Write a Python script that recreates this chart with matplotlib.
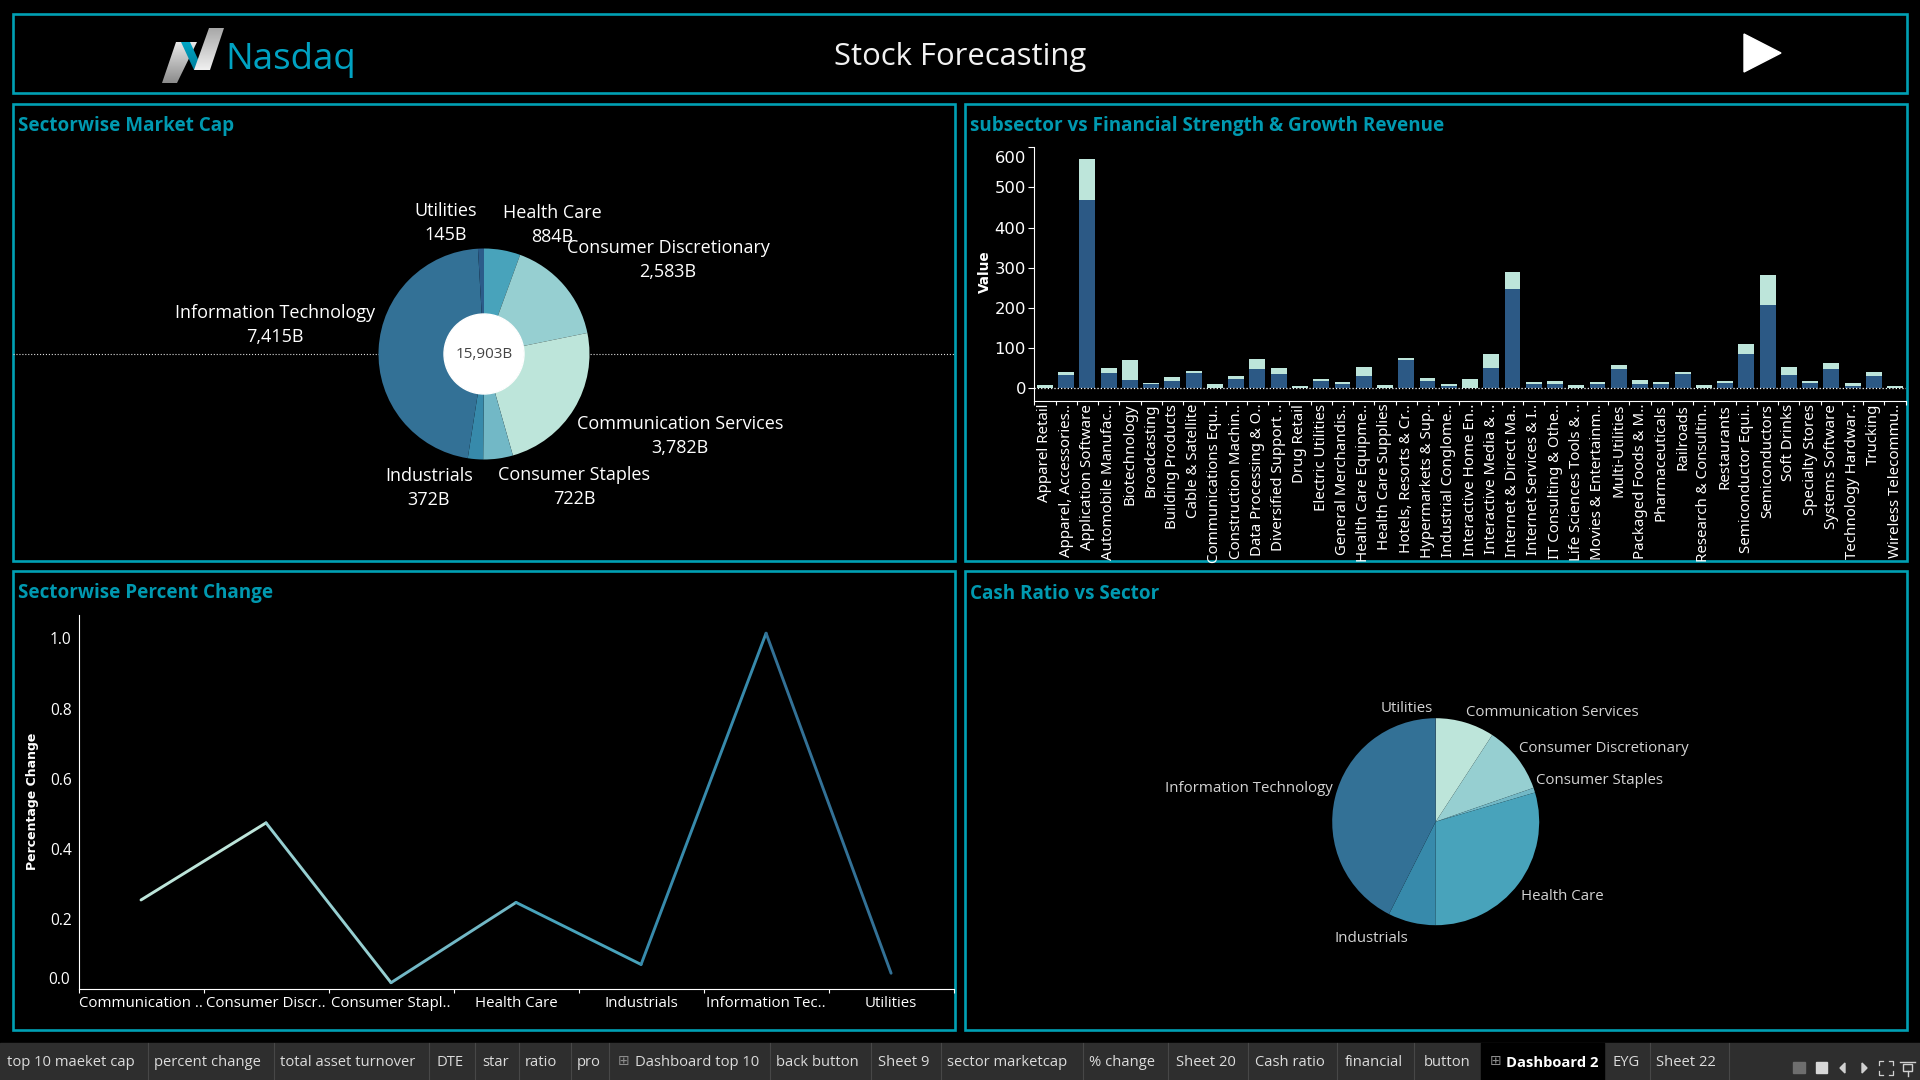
import numpy as np
import matplotlib
matplotlib.use("Agg")
import matplotlib.pyplot as plt
from matplotlib.patches import Rectangle, Polygon

# sector market cap, billions (clockwise from 12 o'clock)
cap_sectors = ["Health Care", "Consumer Discretionary", "Communication Services",
               "Consumer Staples", "Industrials", "Information Technology", "Utilities"]
cap_values = [884, 2583, 3782, 722, 372, 7415, 145]
cap_total = "15,903B"

# subsector bars
subsectors = ["Apparel Retail", "Apparel, Accessories..", "Application Software", "Automobile Manufac..",
              "Biotechnology", "Broadcasting", "Building Products", "Cable & Satellite",
              "Communications Equ..", "Construction Machin..", "Data Processing & O..", "Diversified Support ..",
              "Drug Retail", "Electric Utilities", "General Merchandis..", "Health Care Equipme..",
              "Health Care Supplies", "Hotels, Resorts & Cr..", "Hypermarkets & Sup..", "Industrial Conglome..",
              "Interactive Home En..", "Interactive Media & ..", "Internet & Direct Ma..", "Internet Services & I..",
              "IT Consulting & Othe..", "Life Sciences Tools & ..", "Movies & Entertainm..", "Multi-Utilities",
              "Packaged Foods & M..", "Pharmaceuticals", "Railroads", "Research & Consultin..",
              "Restaurants", "Semiconductor Equi..", "Semiconductors", "Soft Drinks",
              "Specialty Stores", "Systems Software", "Technology Hardwar..", "Trucking", "Wireless Telecommu.."]
strength = [2, 33, 469, 38, 21, 11, 18, 38, 2, 23, 48, 36, 1, 18, 11, 31, 2, 71, 18, 6, 1,
            51, 247, 11, 11, 2, 10, 47, 10, 10, 35, 2, 12, 85, 207, 32, 12, 47, 5, 30, 1]
growth = [6, 8, 102, 13, 50, 2, 10, 5, 9, 8, 25, 15, 5, 5, 5, 22, 6, 5, 8, 5, 22,
          34, 43, 5, 7, 5, 5, 10, 10, 5, 5, 5, 5, 25, 74, 20, 5, 15, 7, 10, 4]

# percent change line
line_sectors = ["Communication ..", "Consumer Discr..", "Consumer Stapl..", "Health Care",
                "Industrials", "Information Tec..", "Utilities"]
pct_change = [0.254, 0.474, 0.018, 0.247, 0.07, 1.015, 0.045]

# cash ratio pie, share in percent (clockwise from 12 o'clock)
cash_sectors = ["Communication Services", "Consumer Discretionary", "Consumer Staples", "Health Care",
                "Industrials", "Information Technology", "Utilities"]
cash_share = [9.2, 10.5, 0.75, 29.6, 7.4, 42.5, 0.05]

tabs = ["top 10 maeket cap", "percent change", "total asset turnover", "DTE", "star", "ratio", "pro",
        "Dashboard top 10", "back button", "Sheet 9", "sector marketcap", "% change", "Sheet 20",
        "Cash ratio", "financial", "button", "Dashboard 2", "EYG", "Sheet 22"]

TEAL = "#00a0b4"
TITLE = "#0099b0"
FONT = "Open Sans"
W, H = 1920, 1080

sector_color = {"Communication Services": "#bde5da", "Consumer Discretionary": "#96cfd1",
                "Consumer Staples": "#72b8c6", "Health Care": "#48a3bb", "Industrials": "#378aab",
                "Information Technology": "#337196", "Utilities": "#2b5c8a"}


def ax_px(fig, l, t, r, b):
    ax = fig.add_axes([l / W, 1 - b / H, (r - l) / W, (b - t) / H])
    ax.patch.set_alpha(0)
    return ax


def gradient_poly(ax, pts, c0, c1):
    xs = [p[0] for p in pts]
    ys = [p[1] for p in pts]
    grad = np.linspace(0, 1, 64).reshape(-1, 1)
    cmap = matplotlib.colors.LinearSegmentedColormap.from_list("g", [c0, c1])
    im = ax.imshow(grad, extent=(min(xs), max(xs), max(ys), min(ys)), cmap=cmap, aspect="auto", zorder=3)
    im.set_clip_path(Polygon(pts, transform=ax.transData))


def end_label(ax, value, text, dy_pts, **kw):
    # end tick labels are pushed inside the axis range, as in the dashboard
    ax.annotate(text, xy=(0, value), xycoords=ax.get_yaxis_transform(), xytext=(-6, dy_pts),
                textcoords="offset points", ha="right", va="center", color="white", **kw)


fig = plt.figure(figsize=(19.2, 10.8), dpi=100, facecolor="black")
bg = fig.add_axes([0, 0, 1, 1])
bg.set_facecolor("black")
bg.axis("off")

# panels
for l, t, r, b in [(13, 14, 1907, 93), (13, 104, 955, 561), (965, 104, 1907, 561),
                   (13, 571, 955, 1030), (965, 571, 1907, 1030)]:
    bg.add_patch(Rectangle((l, t), r - l, b - t, fill=False, ec=TEAL, lw=1.9))

# header
gradient_poly(bg, [(162, 83), (177, 83), (197, 42), (176, 42)], "#e8e8e8", "#8c8c8c")
gradient_poly(bg, [(181, 42), (190, 42), (203, 70), (194, 70)], "#00a6c4", "#007f9c")
gradient_poly(bg, [(194, 70), (210, 70), (224, 28), (209, 28)], "#a8a8a8", "#f0f0f0")
bg.text(225, 69, "Nasdaq", color="#00a2c2", fontsize=26.5, family=FONT, va="baseline", ha="left")
bg.text(960, 57, "Stock Forecasting", color="#f2f2f2", fontsize=22.3, family=FONT, ha="center", va="center")
bg.add_patch(Polygon([(1744, 34), (1781, 53), (1744, 72)], color="white"))

# panel titles
for x, y, s in [(18, 126, "Sectorwise Market Cap"),
                (970, 126, "subsector vs Financial Strength & Growth Revenue"),
                (18, 593, "Sectorwise Percent Change"),
                (970, 594, "Cash Ratio vs Sector")]:
    bg.text(x, y, s, color=TITLE, fontsize=13.6, family=FONT, fontweight="bold", va="center")

# market cap donut
bg.plot([13, 955], [354, 354], color="#dddddd", lw=0.8, ls=":", zorder=1)
ax1 = ax_px(fig, 484 - 105.5, 354 - 105.5, 484 + 105.5, 354 + 105.5)
ax1.pie(cap_values, startangle=90, counterclock=False, radius=1,
        colors=[sector_color[s] for s in cap_sectors], wedgeprops={"width": 1 - 40 / 105.5})
ax1.set_xlim(-1, 1)
ax1.set_ylim(-1, 1)
ax1.add_patch(plt.Circle((0, 0), 40 / 105.5, color="white", zorder=5))
ax1.text(0, 0, cap_total, color="#444444", fontsize=11, family=FONT, ha="center", va="center", zorder=6)

cap_label_pos = {"Utilities": (446, 211), "Health Care": (552, 213), "Consumer Discretionary": (668, 248),
                 "Information Technology": (275, 313), "Communication Services": (680, 424),
                 "Consumer Staples": (574, 475), "Industrials": (429, 476)}
for name, val in zip(cap_sectors, cap_values):
    x, y = cap_label_pos[name]
    bg.text(x, y, name, color="white", fontsize=13, family=FONT, ha="center", va="center")
    bg.text(x, y + 24, f"{val:,}B", color="white", fontsize=13, family=FONT, ha="center", va="center")

# stacked bars
ax2 = ax_px(fig, 1034.3, 147.3, 1905.7, 401)
pos = np.arange(len(subsectors)) + 0.5
ax2.bar(pos, strength, width=0.75, color="#2c5985")
ax2.bar(pos, growth, width=0.75, bottom=strength, color="#bde5da")
ax2.axhline(0, color="white", lw=0.9, ls=":")
ax2.set_xlim(0, len(subsectors))
ax2.set_ylim(-31.6, 600)
ax2.set_xticks(np.arange(len(subsectors) + 1))
ax2.set_xticklabels([])
ax2.set_xticks(pos, minor=True)
ax2.set_xticklabels(subsectors, minor=True, rotation=90, ha="center", va="top", color="white",
                    fontsize=10.8, family="Noto Sans")
ax2.tick_params(axis="x", which="major", length=3, color="white")
ax2.tick_params(axis="x", which="minor", length=0, pad=2)
ax2.set_yticks([0, 100, 200, 300, 400, 500, 600])
ax2.set_yticklabels(["0", "100", "200", "300", "400", "500", ""])
ax2.tick_params(axis="y", length=4, color="white", labelcolor="white", labelsize=11.8, pad=2)
end_label(ax2, 600, "600", -8, fontsize=11.8)
for s in ["top", "right"]:
    ax2.spines[s].set_visible(False)
for s in ["left", "bottom"]:
    ax2.spines[s].set_color("white")
bg.text(985, 272, "Value", color="white", fontsize=9.8, fontweight="bold", family="DejaVu Sans",
        rotation=90, ha="center", va="center")

# percent change line
ax3 = ax_px(fig, 78.5, 615, 953.6, 989)
xs = np.arange(len(line_sectors)) + 0.5
seg_colors = [sector_color[s] for s in ["Communication Services", "Consumer Discretionary", "Consumer Staples",
                                        "Health Care", "Industrials", "Information Technology"]]
for i, c in enumerate(seg_colors):
    ax3.plot(xs[i:i + 2], pct_change[i:i + 2], color=c, lw=2.1, solid_capstyle="round")
ax3.set_xlim(0, len(line_sectors))
ax3.set_ylim(0, 1.067)
ax3.set_xticks(np.arange(len(line_sectors) + 1))
ax3.set_xticklabels([])
ax3.set_xticks(xs, minor=True)
ax3.set_xticklabels(line_sectors, minor=True, color="white", fontsize=10.8, family=FONT)
ax3.tick_params(axis="x", which="major", length=3, color="white")
ax3.tick_params(axis="x", which="minor", length=0, pad=5)
ax3.set_yticks([0, 0.2, 0.4, 0.6, 0.8, 1.0])
ax3.set_yticklabels(["", "0.2", "0.4", "0.6", "0.8", "1.0"])
ax3.tick_params(axis="y", length=0, labelcolor="white", labelsize=11.2, pad=5)
for t in ax3.get_yticklabels():
    t.set_family(FONT)
end_label(ax3, 0, "0.0", 6.5, fontsize=11.2, family=FONT)
for s in ["top", "right"]:
    ax3.spines[s].set_visible(False)
for s in ["left", "bottom"]:
    ax3.spines[s].set_color("white")
bg.text(33, 801, "Percentage Change", color="white", fontsize=9, fontweight="bold", family="DejaVu Sans",
        rotation=90, ha="center", va="center")

# cash ratio pie
ax4 = ax_px(fig, 1435.7 - 103.5, 821.7 - 103.5, 1435.7 + 103.5, 821.7 + 103.5)
ax4.pie(cash_share, startangle=90, counterclock=False, radius=1,
        colors=[sector_color[s] for s in cash_sectors])
ax4.set_xlim(-1, 1)
ax4.set_ylim(-1, 1)
cash_label_pos = {"Utilities": (1407, 708, "center"), "Communication Services": (1466, 712, "left"),
                  "Consumer Discretionary": (1519, 748, "left"), "Consumer Staples": (1536, 780, "left"),
                  "Health Care": (1521, 897, "left"), "Industrials": (1335, 938, "left"),
                  "Information Technology": (1333, 789, "right")}
for name in cash_sectors:
    x, y, ha = cash_label_pos[name]
    bg.text(x, y, name, color="#d4d4d4", fontsize=10.8, family=FONT, ha=ha, va="center")

# tab bar
bg.add_patch(Rectangle((0, 1043), W, 37, color="#2e2e2e"))
bg.add_patch(Rectangle((1480.5, 1043), 123.5, 37, color="black"))
for x in [147.6, 273.7, 429, 474.6, 518.7, 570.7, 609, 770, 871, 941, 1082.5, 1168, 1248, 1337, 1414,
          1649.5, 1728.5]:
    bg.plot([x, x], [1043, 1080], color="#474747", lw=0.8)
tab_x = [7, 154, 280, 436.6, 482, 525, 577, 635, 776.5, 877.5, 947, 1089, 1175.5, 1255, 1344.6, 1423.5,
         1505.6, 1612, 1656]
for name, x in zip(tabs, tab_x):
    bold = name == "Dashboard 2"
    bg.text(x, 1063, name, color="white" if bold else "#dcdcdc", fontsize=10.6, family=FONT,
            fontweight="bold" if bold else "normal", va="center")
for x in [618, 1490]:
    bg.text(x, 1061, "\u229e", color="#8c8c8c", fontsize=10, family="DejaVu Sans", ha="left", va="center")

# view controls, bottom right
bg.add_patch(Rectangle((1793, 1062), 12, 11, color="#6e6e6e"))
bg.add_patch(Rectangle((1815.5, 1062), 11, 11, color="#d8d8d8"))
bg.add_patch(Polygon([(1845, 1063), (1840, 1068), (1845, 1073)], color="#d0d0d0"))
bg.add_patch(Polygon([(1862, 1063), (1867, 1068), (1862, 1073)], color="#d0d0d0"))
for x0, x1 in [(1879, 1883), (1893, 1889)]:
    for y0, y1 in [(1061, 1065), (1075, 1071)]:
        bg.plot([x1, x0, x0], [y0, y0, y1], color="#d0d0d0", lw=0.9)
bg.add_patch(Rectangle((1903, 1064), 9, 7, fill=False, ec="#d0d0d0", lw=1))
bg.plot([1900, 1915], [1062, 1062], color="#d0d0d0", lw=1)
bg.plot([1907.5, 1907.5], [1071, 1076], color="#d0d0d0", lw=1)

bg.set_xlim(0, W)
bg.set_ylim(H, 0)

fig.savefig("out.png", dpi=100, facecolor="black")
